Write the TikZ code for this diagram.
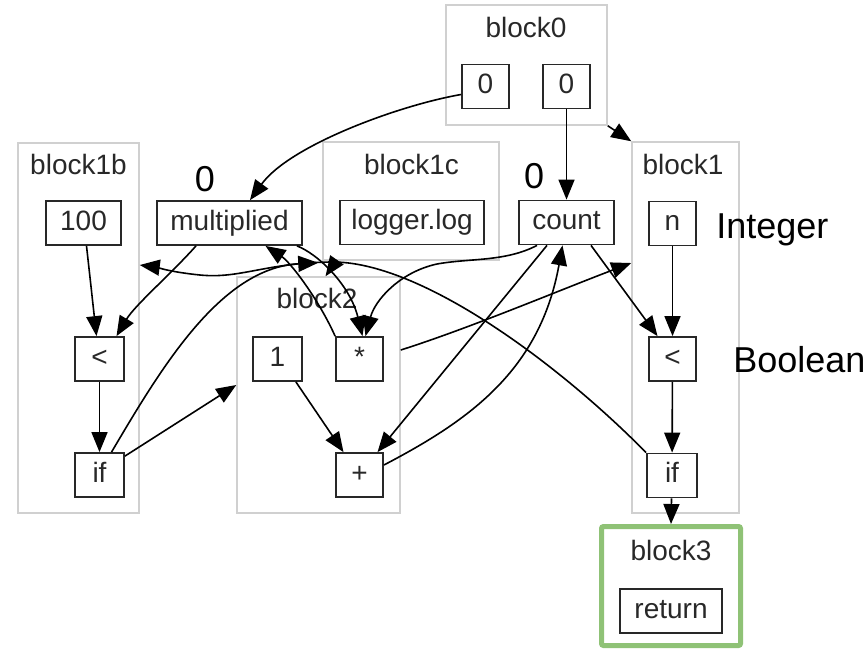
\documentclass[tikz,border=0pt]{standalone}
\usepackage{fontspec}
\setmainfont{Liberation Sans}
\usetikzlibrary{arrows.meta,calc}
\definecolor{clgray}{RGB}{208,208,208}
\definecolor{txt}{RGB}{40,40,40}
\definecolor{grn}{RGB}{143,194,118}
\begin{document}
\begin{tikzpicture}[x=0.5pt,y=-0.5pt,
  cluster/.style={draw=clgray,line width=0.75pt,inner sep=0pt},
  greencluster/.style={draw=grn,line width=2.5pt,inner sep=0pt,rounded corners=1pt},
  clabel/.style={text=txt,font=\fontsize{14}{16}\selectfont,inner sep=0pt},
  op/.style={draw=txt,line width=0.9pt,inner sep=0pt,minimum height=22pt,text height=10pt,text depth=3pt,text=txt,font=\fontsize{14}{16}\selectfont},
  big/.style={font=\fontsize{18}{21}\selectfont,inner sep=0pt},
  edge/.style={line width=0.8pt,-{Triangle[length=10pt,width=8pt]}},
]
\useasboundingbox (0,0) rectangle (865,650);
% clusters
\node[cluster,minimum width=80.5pt,minimum height=60pt] (c0) at (526.5,65) {};
\node[cluster,minimum width=60.5pt,minimum height=185pt] (c1b) at (78.5,328) {};
\node[cluster,minimum width=88pt,minimum height=59pt] (c1c) at (411,201) {};
\node[cluster,minimum width=53.5pt,minimum height=185.5pt] (c1) at (685.5,327.5) {};
\node[cluster,minimum width=81.5pt,minimum height=118pt] (c2) at (318.5,395) {};
\node[greencluster,minimum width=69.5pt,minimum height=59.5pt] (c3) at (671,586) {};
% cluster labels
\node[clabel] (l0) at (526,27) {block0};
\node[clabel] (l1b) at (78.5,164) {block1b};
\node[clabel] (l1c) at (411.5,164) {block1c};
\node[clabel] (l1) at (683,164) {block1};
\node[clabel] (l2) at (317,298.5) {block2};
\node[clabel] (l3) at (671,550) {block3};
% boxes
\node[op,minimum width=23.5pt] (b0a) at (485.5,86.5) {0};
\node[op,minimum width=23.5pt] (b0b) at (566.5,86.5) {0};
\node[op,minimum width=37.5pt] (hund) at (83.5,223) {100};
\node[op,minimum width=72.5pt] (mult) at (229.5,223) {multiplied};
\node[op,minimum width=72pt] (logr) at (412,222.5) {logger.log};
\node[op,minimum width=47.5pt] (cnt) at (566.5,222.5) {count};
\node[op,minimum width=23.5pt] (nn) at (672.5,223.5) {n};
\node[op,minimum width=24.5pt] (lta) at (99.5,359) {<};
\node[op,minimum width=24.5pt] (ifa) at (99.5,475) {if};
\node[op,minimum width=24.5pt] (one) at (277.5,359) {1};
\node[op,minimum width=23.5pt] (mul) at (359.5,359) {*};
\node[op,minimum width=23.5pt] (pls) at (359.5,475) {+};
\node[op,minimum width=23.5pt] (ltb) at (672.5,359) {<};
\node[op,minimum width=25pt] (ifb) at (672,475.5) {if};
\node[op,minimum width=51pt] (ret) at (671,611) {return};
% free labels
\node[big,anchor=base] (z1) at (205,191) {0};
\node[big,anchor=base] (z2) at (534,188) {0};
\node[big,anchor=base west] (tint) at (716,238) {Integer};
\node[big,anchor=base west] (tbool) at (733,372) {Boolean};
% edges
\draw[edge] ([yshift=-4pt]b0a.west) .. controls (400,105) and (290,145) .. ([xshift=10.25pt]mult.north);
\draw[edge] (b0b) -- (cnt);
\draw[edge] (c0.south east) -- (c1.north west);
\draw[edge] ([xshift=1.5pt]hund.south) -- ([xshift=-1.5pt]lta.north);
\draw[edge] ([xshift=-16.75pt]mult.south) .. controls (170,275) and (135,305) .. ([xshift=8.5pt]lta.north);
\draw[edge] (lta) -- (ifa);
\draw[edge] ([yshift=-2pt]ifa.north east) -- ([yshift=5pt]c2.west);
\draw[edge] ([xshift=6pt]ifa.north) .. controls (160,370) and (220,268) .. ([shift={(-2pt,-1pt)}]c1c.south west);
\draw[edge] (ifb.north west) .. controls (560,365) and (420,260) .. (330,262)
   .. controls (265,263) and (240,279) .. (200,275)
   .. controls (170,272) and (155,267) .. ([yshift=31.5pt]c1b.east);
\draw[edge] ([xshift=33.75pt]mult.south) .. controls (318,254) and (350,285) .. ([xshift=1.5pt]mul.north);
\draw[edge] (mul.north west) .. controls (318,298) and (290,262) .. ([xshift=18pt]mult.south);
\draw[edge] ([xshift=-14.75pt]cnt.south) .. controls (505,262) and (470,258) .. (437,264)
   .. controls (400,272) and (375,300) .. ([xshift=3pt]mul.north);
\draw[edge] ([xshift=-9.75pt]cnt.south) -- ([xshift=9pt]pls.north);
\draw[edge] ([yshift=5pt]pls.east) .. controls (470,420) and (540,370) .. ([xshift=-2pt]cnt.south);
\draw[edge] ([xshift=12.25pt]cnt.south) -- ([xshift=-7.5pt]ltb.north);
\draw[edge] (nn) -- (ltb);
\draw[edge] (ltb) -- (ifb);
\draw[edge] (ifb) -- (c3.north);
\draw[edge] ([xshift=-3.5pt]one.south east) -- ([xshift=-8pt]pls.north);
\draw[edge] ([yshift=22.5pt]c2.east) .. controls (470,328) and (560,290) .. ([yshift=32.25pt]c1.west);
\draw[edge] ([xshift=7pt]c1c.south west) -- ([xshift=3.5pt]c2.north);
\end{tikzpicture}
\end{document}
